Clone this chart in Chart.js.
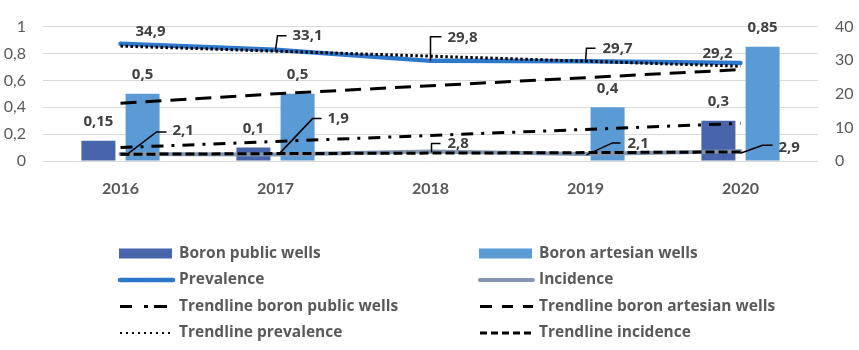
<!DOCTYPE html>
<html>
<head>
<meta charset="utf-8">
<script src="https://cdn.jsdelivr.net/npm/chart.js@4"></script>
<style>
  html, body { margin: 0; padding: 0; background: #fff; }
</style>
</head>
<body>
<canvas id="chart" width="859" height="350"></canvas>
<script>
// Daten
const years = ['2016', '2017', '2018', '2019', '2020'];
const boronPublic = [0.15, 0.1, null, null, 0.3];
const boronArtesian = [0.5, 0.5, null, 0.4, 0.85];
const prevalence = [34.9, 33.1, 29.8, 29.7, 29.2];
const incidence = [2.1, 1.9, 2.8, 2.1, 2.9];
const trendPublic = [0.10, 0.145, 0.19, 0.235, 0.28];
const trendArtesian = [0.43, 0.50, 0.56, 0.62, 0.68];
const trendPrevalence = [34.2, 32.7, 31.2, 29.7, 28.2];
const trendIncidence = [2.0, 2.2, 2.35, 2.5, 2.7];
const leftMax = 1, leftStep = 0.2;
const rightMax = 40, rightStep = 10;

const FONT = 'Lato';
const LABEL_FONT = "'Open Sans'";
const fmt = v => v.toLocaleString('de-DE');

// Label-Positionen relativ zum Punkt: Text bei "at", optionale Hilfslinie "leader"
const prevalenceLabels = [
    { at: [30, -12], align: 'center' },
    { at: [17, -14], leader: [[0, 0], [2, -14], [11, -14]] },
    { at: [17, -23], leader: [[0, 0], [0, -24], [11, -24]] },
    { at: [17, -12], leader: [[0, 0], [1, -13], [10, -13]] },
    { at: [-23, -9], align: 'center' },
];
const incidenceLabels = [
    { at: [52, -23], leader: [[6, 1], [36, -22], [46, -22]] },
    { at: [52, -36], leader: [[3, 0], [37, -36], [46, -36]] },
    { at: [17, -8], leader: [[1, 1], [1, -8], [10, -8]] },
    { at: [42, -10], leader: [[1, 1], [27, -11], [35, -11]] },
    { at: [38, -4], leader: [[0, 2], [22, -6], [32, -6]] },
];

// Werte-Beschriftungen
const valueLabels = {
    id: 'valueLabels',
    afterDatasetsDraw(chart) {
        const ctx = chart.ctx;
        chart.data.datasets.forEach((ds, i) => {
            if (!ds.valueLabels) return;
            const meta = chart.getDatasetMeta(i);
            meta.data.forEach((el, j) => {
                const v = ds.data[j];
                if (v == null) return;
                ctx.save();
                ctx.font = `bold 15px ${LABEL_FONT}`;
                ctx.fillStyle = '#404040';
                ctx.textBaseline = 'middle';
                if (ds.valueLabels === 'bar') {
                    ctx.textAlign = 'center';
                    ctx.fillText(fmt(v), el.x, el.y - 19);
                } else {
                    const p = ds.valueLabels[j];
                    if (p.leader) {
                        ctx.strokeStyle = '#000';
                        ctx.lineWidth = 1.5;
                        ctx.beginPath();
                        p.leader.forEach(([dx, dy], k) => {
                            if (k === 0) ctx.moveTo(el.x + dx, el.y + dy);
                            else ctx.lineTo(el.x + dx, el.y + dy);
                        });
                        ctx.stroke();
                    }
                    ctx.textAlign = p.align || 'left';
                    ctx.fillText(fmt(v), el.x + p.at[0], el.y + p.at[1]);
                }
                ctx.restore();
            });
        });
    }
};

// Legende in zwei Spalten
const twoColLegend = {
    id: 'twoColLegend',
    afterDraw(chart) {
        const ctx = chart.ctx;
        chart.data.datasets.forEach((ds, i) => {
            const x = i % 2 ? 479 : 119;
            const y = 253.5 + Math.floor(i / 2) * 26.5;
            ctx.save();
            if (ds.type === 'bar') {
                ctx.fillStyle = ds.backgroundColor;
                ctx.fillRect(x, y - 5, 53, 10);
            } else {
                ctx.strokeStyle = ds.borderColor;
                ctx.lineWidth = ds.legendWidth || ds.borderWidth;
                ctx.lineCap = ds.legendDash ? 'butt' : 'round';
                ctx.setLineDash(ds.legendDash || []);
                ctx.beginPath();
                ctx.moveTo(x + 1, y);
                ctx.lineTo(x + 54, y);
                ctx.stroke();
            }
            ctx.setLineDash([]);
            ctx.font = `bold 15.5px ${LABEL_FONT}`;
            ctx.fillStyle = '#595959';
            ctx.textBaseline = 'middle';
            ctx.textAlign = 'left';
            ctx.fillText(ds.label, x + 60, y);
            ctx.restore();
        });
    }
};

function main() {
    const lineDs = (label, data, axis, color, width, dash, legendDash, order) => ({
        type: 'line', label, data, yAxisID: axis,
        borderColor: color, backgroundColor: color, borderWidth: width,
        borderDash: dash, legendDash, pointRadius: 0, tension: 0, fill: false, order
    });

    const datasets = [
        { type: 'bar', label: 'Boron public wells', data: boronPublic, yAxisID: 'y',
          backgroundColor: '#4865AB', valueLabels: 'bar', order: 10 },
        { type: 'bar', label: 'Boron artesian wells', data: boronArtesian, yAxisID: 'y',
          backgroundColor: '#5B9BD5', valueLabels: 'bar', order: 10 },
        Object.assign(lineDs('Prevalence', prevalence, 'y1', '#2E78CC', 4.5, [], null, 5),
          { valueLabels: prevalenceLabels, borderCapStyle: 'round' }),
        Object.assign(lineDs('Incidence', incidence, 'y1', '#8497B0', 4, [], null, 5),
          { valueLabels: incidenceLabels, borderCapStyle: 'round' }),
        lineDs('Trendline boron public wells', trendPublic, 'y', '#000', 3, [12, 8, 3, 8], [12, 12, 4, 6, 13, 20], 1),
        lineDs('Trendline boron artesian wells', trendArtesian, 'y', '#000', 3, [16, 9], [12, 10, 11, 10, 11, 10], 1),
        Object.assign(lineDs('Trendline prevalence', trendPrevalence, 'y1', '#000', 3, [2.5, 2.5], [2, 4], 1),
          { legendWidth: 2 }),
        lineDs('Trendline incidence', trendIncidence, 'y1', '#000', 3, [9, 4], [7, 4], 1),
    ];

    const tickFont = { family: FONT, size: 16 };

    new Chart(document.getElementById('chart').getContext('2d'), {
        type: 'bar',
        data: { labels: years, datasets },
        options: {
            responsive: false,
            animation: false,
            categoryPercentage: 0.57,
            barPercentage: 0.77,
            layout: { padding: { top: 15, bottom: 149, left: 0, right: 0 } },
            plugins: { legend: { display: false }, tooltip: { enabled: false } },
            scales: {
                x: {
                    grid: { display: false, drawTicks: false },
                    border: { display: false },
                    ticks: { color: '#595959', font: { family: FONT, size: 16, weight: 'bold' }, padding: 18 },
                    afterFit: s => { s.height = 40; }
                },
                y: {
                    position: 'left', min: 0, max: leftMax,
                    grid: { color: '#D9D9D9', drawTicks: false },
                    border: { display: false },
                    ticks: { stepSize: leftStep, color: '#595959', font: tickFont, padding: 17,
                             callback: v => fmt(v) },
                    afterFit: s => { s.width = 43; }
                },
                y1: {
                    position: 'right', min: 0, max: rightMax,
                    grid: { display: false, drawTicks: false },
                    border: { display: false },
                    ticks: { stepSize: rightStep, color: '#595959', font: tickFont, padding: 17 },
                    afterFit: s => { s.width = 41; }
                }
            }
        },
        plugins: [valueLabels, twoColLegend]
    });
}

window.addEventListener('DOMContentLoaded', main);
</script>
</body>
</html>
